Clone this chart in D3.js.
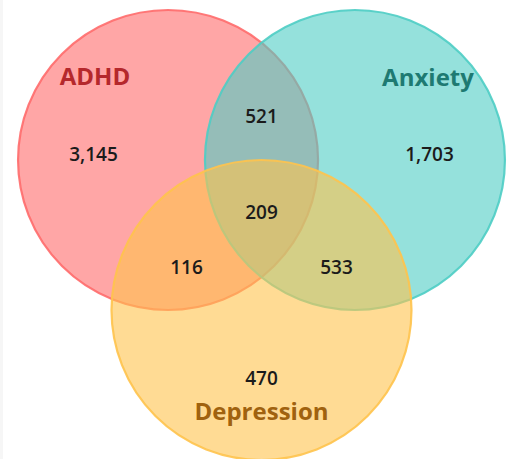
<!DOCTYPE html>
<html>
<head>
<meta charset="utf-8">
<script src="https://cdn.jsdelivr.net/npm/d3@7"></script>
<style>
  html, body { margin: 0; padding: 0; background: #fff; }
  svg { display: block; }
</style>
</head>
<body>
<svg id="chart" width="507" height="459"></svg>
<script>
// ---- data ----
const setNames   = ["ADHD", "Anxiety", "Depression"];
const setColors  = ["#FF6B6B", "#4ECDC4", "#FFC34D"];
const labelColors = ["#B5282C", "#1E7A72", "#A0620F"];
const regionKeys   = ["ADHD", "Anxiety", "Depression", "ADHD∩Anxiety", "ADHD∩Depression", "Anxiety∩Depression", "ADHD∩Anxiety∩Depression"];
const regionValues = [3145, 1703, 470, 521, 116, 533, 209];

// ---- layout (venn geometry in radius units) ----
const W = 507, H = 459;
const svg = d3.select("#chart");
svg.append("rect").attr("x", 0).attr("y", 0).attr("width", 3).attr("height", H).attr("fill", "#f6f6f6");

const R = 150;
const x = d3.scaleLinear().domain([0, 1]).range([261.5, 261.5 + R]);
const y = d3.scaleLinear().domain([0, 1]).range([310, 310 + R]);
const centers = [[-0.623, -1.0], [0.623, -1.0], [0, 0]];

const circles = setNames.map((n, i) => ({name: n, cx: x(centers[i][0]), cy: y(centers[i][1]), color: setColors[i], lc: labelColors[i]}));

svg.selectAll("circle.set").data(circles).join("circle")
  .attr("class", "set")
  .attr("cx", d => d.cx).attr("cy", d => d.cy).attr("r", x(1) - x(0))
  .attr("fill", d => d.color).attr("fill-opacity", 0.6)
  .attr("stroke", d => d.color).attr("stroke-opacity", 0.9).attr("stroke-width", 2.2);

// set labels (unit offsets)
const setLabelPos = [[-1.11, -1.5], [1.11, -1.495], [0, 0.73]];
svg.selectAll("text.setlabel").data(circles).join("text")
  .attr("class", "setlabel")
  .attr("x", (d, i) => x(setLabelPos[i][0]))
  .attr("y", (d, i) => y(setLabelPos[i][1]))
  .attr("text-anchor", "middle")
  .attr("font-family", "'Open Sans', 'Noto Sans', sans-serif")
  .attr("font-weight", 700)
  .attr("font-size", 24)
  .attr("fill", d => d.lc)
  .text(d => d.name);

// region value labels
const regionPos = [[-1.12, -0.995], [1.12, -0.995], [0, 0.503], [0, -1.25], [-0.5, -0.237], [0.5, -0.237], [0, -0.61]];
const fmt = d3.format(",");
svg.selectAll("text.val").data(regionValues).join("text")
  .attr("class", "val")
  .attr("x", (d, i) => x(regionPos[i][0]))
  .attr("y", (d, i) => y(regionPos[i][1]))
  .attr("text-anchor", "middle")
  .attr("font-family", "'Open Sans', 'Noto Sans', sans-serif")
  .attr("font-weight", 600)
  .attr("font-size", 19)
  .attr("fill", "#1b1b1b")
  .text(d => fmt(d));
</script>
</body>
</html>
